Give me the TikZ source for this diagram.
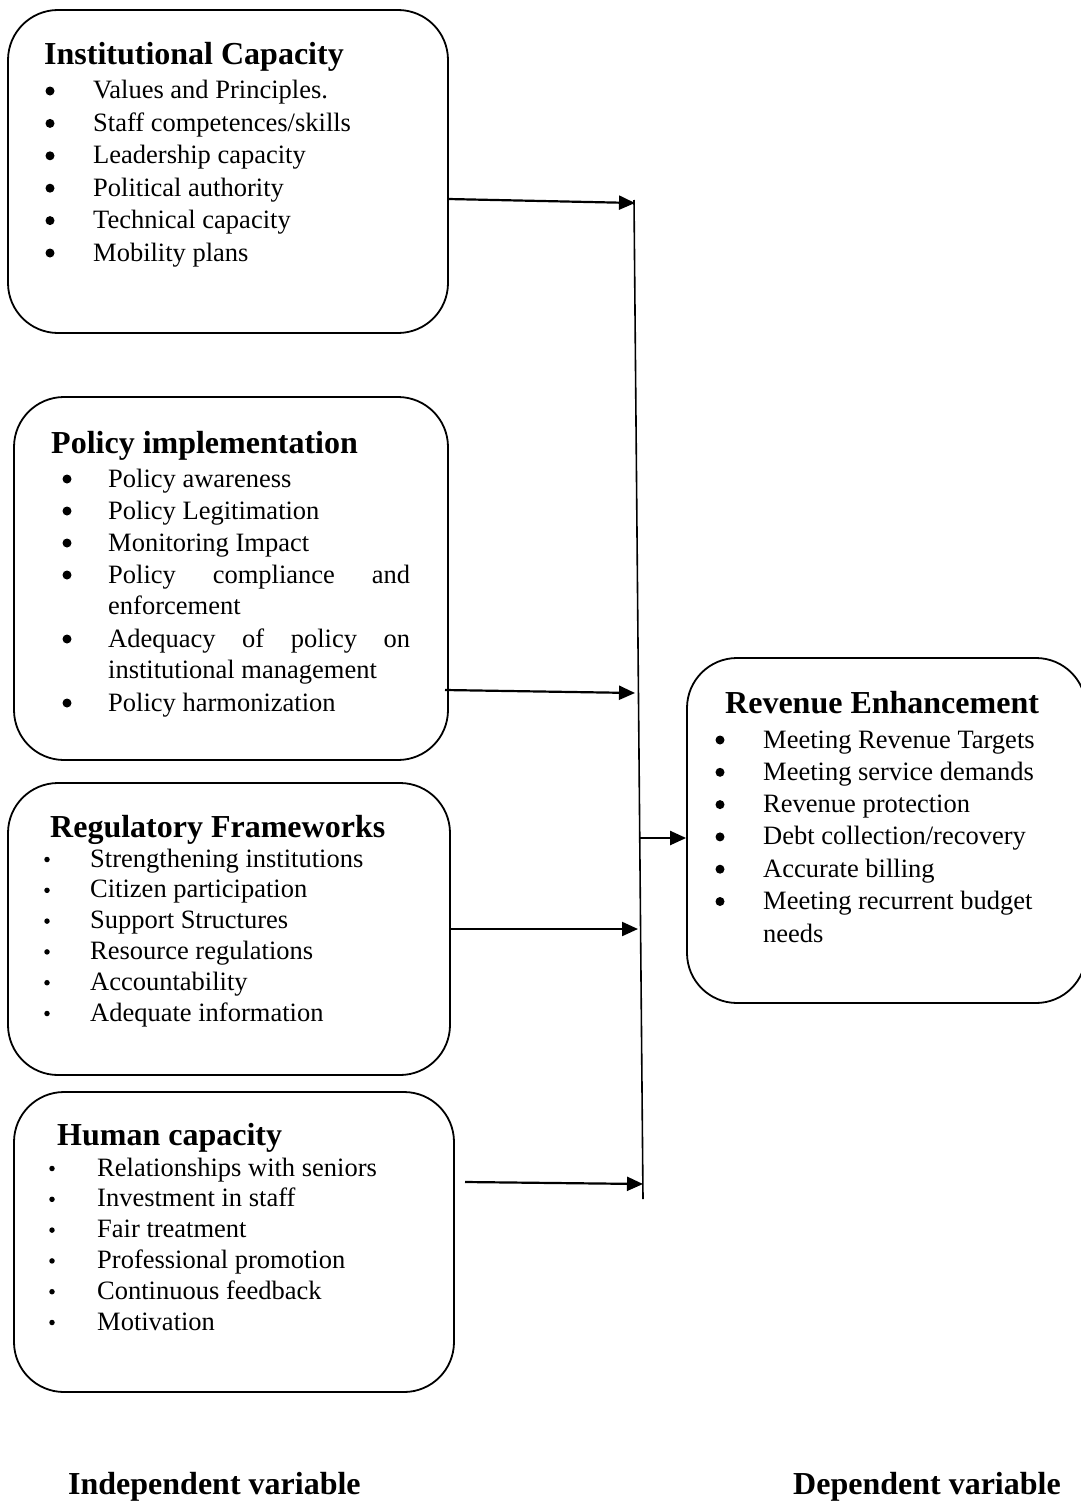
\documentclass[tikz,border=0pt]{standalone}
\usepackage{fontspec}
\setmainfont{Liberation Serif}
\usetikzlibrary{arrows.meta}
\begin{document}
\begin{tikzpicture}[x=1pt,y=-1pt,
  box/.style={draw, line width=1.8pt, rounded corners=50pt, inner sep=0pt},
  item/.style={anchor=base west, inner sep=0pt, font=\fontsize{26.5}{30}\selectfont},
  head/.style={anchor=base west, inner sep=0pt, font=\fontsize{32}{36}\selectfont\bfseries},
  conn/.style={line width=2.2pt, -{Triangle[length=16pt,width=14pt]}},
  bus/.style={line width=1.6pt},
  bigdot/.style={circle, fill, inner sep=0pt, minimum size=9pt},
  smalldot/.style={circle, fill, inner sep=0pt, minimum size=5.5pt}]
\useasboundingbox (0,0) rectangle (1081,1504);

% boxes
\node[box, minimum width=440pt, minimum height=323pt] (inst) at (228,171.5) {};
\node[box, minimum width=434pt, minimum height=363pt] (pol) at (231,578.5) {};
\node[box, minimum width=442pt, minimum height=292pt] (reg) at (229,929) {};
\node[box, minimum width=440pt, minimum height=300pt] (hum) at (234,1242) {};
\node[box, minimum width=399pt, minimum height=345pt] (rev) at (886.5,830.5) {};

% Institutional Capacity
\node[head] (h1) at (44,65) {Institutional Capacity};
\foreach \t [count=\i] in {Values and Principles., Staff competences/skills, Leadership capacity, Political authority, Technical capacity, Mobility plans} {
  \node[bigdot] (d1-\i) at (50,91+32.4*\i-32.4) {};
  \node[item] (i1-\i) at (93,99+32.4*\i-32.4) {\t};
}

% Policy implementation
\node[head] (h2) at (51,453) {Policy implementation};
\node[bigdot] (d2-1) at (67,479) {};
\node[item] (i2-1) at (108,487) {Policy awareness};
\node[bigdot] (d2-2) at (67,511) {};
\node[item] (i2-2) at (108,519) {Policy Legitimation};
\node[bigdot] (d2-3) at (67,543) {};
\node[item] (i2-3) at (108,551) {Monitoring Impact};
\node[bigdot] (d2-4) at (67,575) {};
\node[item] (i2-4) at (108,583) {\makebox[302pt][s]{Policy compliance and}};
\node[item] (i2-4b) at (108,614) {enforcement};
\node[bigdot] (d2-5) at (67,639) {};
\node[item] (i2-5) at (108,647) {\makebox[302pt][s]{Adequacy of policy on}};
\node[item] (i2-5b) at (108,678) {institutional management};
\node[bigdot] (d2-6) at (67,703) {};
\node[item] (i2-6) at (108,711) {Policy harmonization};

% Regulatory Frameworks
\node[head] (h3) at (50,837) {Regulatory Frameworks};
\foreach \t [count=\i] in {Strengthening institutions, Citizen participation, Support Structures, Resource regulations, Accountability, Adequate information} {
  \node[smalldot] (d3-\i) at (47,859.5+30.8*\i-30.8) {};
  \node[item] (i3-\i) at (90,867+30.8*\i-30.8) {\t};
}

% Human capacity
\node[head] (h4) at (57,1145) {Human capacity};
\foreach \t [count=\i] in {Relationships with seniors, Investment in staff, Fair treatment, Professional promotion, Continuous feedback, Motivation} {
  \node[smalldot] (d4-\i) at (52,1168.5+30.8*\i-30.8) {};
  \node[item] (i4-\i) at (97,1176+30.8*\i-30.8) {\t};
}

% Revenue Enhancement
\node[head] (h5) at (725,713) {Revenue Enhancement};
\foreach \t [count=\i] in {Meeting Revenue Targets, Meeting service demands, Revenue protection, Debt collection/recovery, Accurate billing, Meeting recurrent budget} {
  \node[bigdot] (d5-\i) at (720,740+32.3*\i-32.3) {};
  \node[item] (i5-\i) at (763,748+32.3*\i-32.3) {\t};
}
\node[item] (i5-6b) at (763,942) {needs};

% bottom labels
\node[head] (lab1) at (68,1494) {Independent variable};
\node[head] (lab2) at (793,1494) {Dependent variable};

% bus line
\coordinate (bt) at (634,200);
\coordinate (bb) at (643,1199);
\draw[bus] (bt) -- (bb);

% connectors
\coordinate (s1) at (448,199);
\coordinate (e1) at (635,203);
\coordinate (s2) at (445,690);
\coordinate (e2) at (635,693);
\coordinate (s3) at (450,929);
\coordinate (e3) at (638,929);
\coordinate (s4) at (465,1182);
\coordinate (e4) at (643,1184);
\coordinate (s5) at (640,838);
\draw[conn] (s1) -- (e1);
\draw[conn] (s2) -- (e2);
\draw[conn] (s3) -- (e3);
\draw[conn] (s4) -- (e4);
\draw[conn] (s5) -- (s5 -| rev.west);
\end{tikzpicture}
\end{document}
